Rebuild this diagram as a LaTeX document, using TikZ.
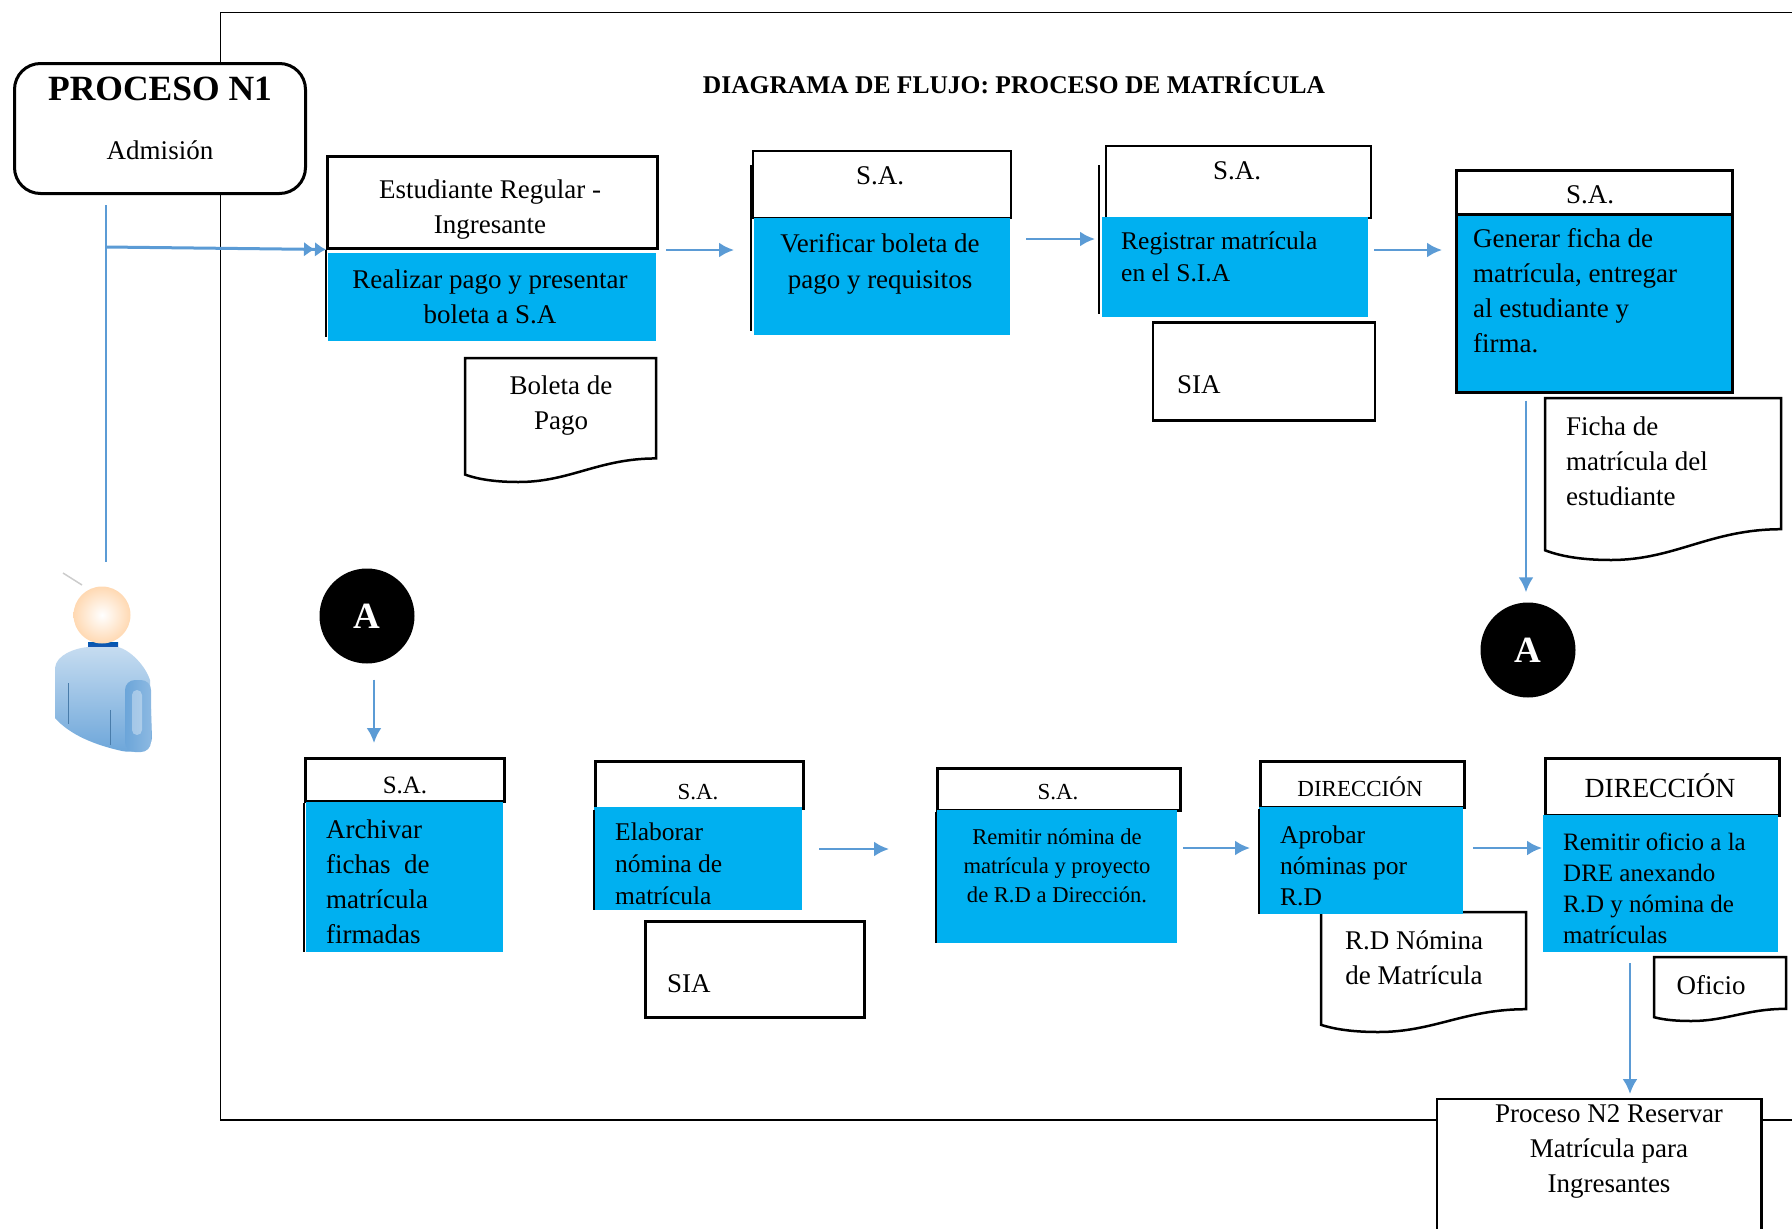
\documentclass[tikz,border=0pt]{standalone}
\usepackage{fontspec}
\setmainfont{Liberation Serif}
\definecolor{celeste}{HTML}{00B0F0}
\definecolor{flecha}{HTML}{5B9BD5}
\usetikzlibrary{arrows.meta, calc, positioning, shapes.geometric}
\tikzset{
	letra/.style 2 args={font=\fontsize{#1}{#2}\selectfont, inner sep=0pt, align=left},
	cab/.style={draw=black, line width=2.5pt, fill=white, anchor=north west, inner sep=0pt},
	cuerpo/.style={fill=celeste, anchor=north west, inner sep=0pt},
	borde/.style={draw=black, line width=2.5pt},
	flujo/.style={draw=flecha, line width=2.5pt, -{Latex[length=15pt,width=15pt]}},
	flujodoble/.style={draw=flecha, line width=3pt, -{Latex[length=11pt,width=15pt]Latex[length=11pt,width=15pt]}},
	base/.style={cylinder, shape border rotate=90, aspect=6.5, draw=black, line width=2.5pt, fill=white, inner sep=0pt},
	conector/.style={circle, fill=black, text=white, minimum size=95pt, inner sep=0pt, font=\fontsize{37}{40}\selectfont\bfseries},
}
% hoja con el borde inferior ondulado
\newcommand{\hoja}[4]{
	\pgfmathsetmacro{\ancho}{#3-#1}
	\pgfmathsetmacro{\alto}{#4-#2}
	\draw[borde, fill=white, shift={(#1,#2)}] (0,0) -- (\ancho,0) -- (\ancho,.81*\alto)
		.. controls (.7*\ancho,.81*\alto) and (.55*\ancho,\alto) .. (.28*\ancho,\alto)
		.. controls (.18*\ancho,\alto) and (.08*\ancho,.985*\alto) .. (0,.94*\alto) -- cycle;
}
\begin{document}
\begin{tikzpicture}[x=1pt,y=-1pt]
	\useasboundingbox (0,0) rectangle (1792,1229);
	
	% marco
	\draw[line width=1.6pt] (1792,12.6) -- (220.6,12.6) -- (220.6,1120) -- (1792,1120);
	
	\node[letra={25.5}{30}, font=\fontsize{25.5}{30}\selectfont\bfseries] (titulo) at (1014,83) {DIAGRAMA DE FLUJO: PROCESO DE MATRÍCULA};
	
	% inicio
	\node[draw=black, line width=3pt, fill=white, rounded corners=26pt, anchor=north west, minimum width=291pt, minimum height=130pt] (proceso) at (13,62) {};
	\node[letra={35.5}{40}, font=\fontsize{35.5}{40}\selectfont\bfseries] (procesotxt) at (160,89) {PROCESO N1};
	\node[letra={27}{32}] (admision) at (160,150) {Admisión};
	
	\coordinate (cruce) at (106,247);
	\coordinate (persona) at (106,562);
	
	% persona
	\draw[gray!40, line width=1.5pt] (63,573) -- (82,585);
	\fill[top color=blue!50!cyan!70!black, bottom color=blue!50!black!70] (88,642) rectangle (118,656);
	\shade[top color=flecha!35!white, bottom color=flecha!90!white]
		(55,668) .. controls (56,655) and (75,648) .. (88,647) -- (118,647)
		.. controls (130,650) and (145,665) .. (150,680) -- (152,738)
		.. controls (152,748) and (135,754) .. (122,751)
		.. controls (95,745) and (70,735) .. (55,718) -- cycle;
	\shade[rounded corners=10pt, left color=flecha!90!white, right color=flecha!70!white] (125,680) rectangle (151,752);
	\fill[white, opacity=.35, rounded corners=5pt] (132,690) rectangle (142,735);
	\draw[flecha!80!black, line width=1pt] (68,683) -- (68,724);
	\draw[flecha!80!black, line width=1pt] (110,710) -- (110,745);
	\shade[inner color=white, outer color=orange!30!white] (102,615) circle (28.5);
	
	% fila superior
	\node[cab, minimum width=330pt, minimum height=92pt] (cab1) at (326,155) {};
	\node[cuerpo, minimum width=328pt, minimum height=88pt] (pago) at (328,253) {};
	\draw[borde, shorten >=4pt] (cab1.south west) -- (cab1.south west |- pago.south);
	\node[letra={27}{35}, align=center] (cab1txt) at (490,210) {Estudiante Regular -\\Ingresante};
	\node[letra={27}{35}, align=center] (pagotxt) at (490,297) {Realizar pago y presentar\\boleta a S.A};
	
	\hoja{465}{358}{656}{482}
	\node[letra={27}{35}, align=center] (boleta) at (561,406) {Boleta de\\Pago};
	
	\node[cab, line width=1.5pt, minimum width=258pt, minimum height=67pt] (cab2) at (752,150) {};
	\node[cuerpo, minimum width=256pt, minimum height=117pt] (verificar) at (754,218) {};
	\draw[borde] (751,165) -- (751,331);
	\node[letra={27}{35}] (cab2txt) at (880,176) {S.A.};
	\node[letra={27}{36}, align=center] (verificartxt) at (880,264) {Verificar boleta de\\pago y requisitos};
	
	\draw[borde, line width=1.5pt] (1099,165) -- (1099,314);
	\node[cab, line width=1.5pt, minimum width=265pt, minimum height=72pt] (cab3) at (1105,145) {};
	\node[cuerpo, minimum width=266pt, minimum height=100pt] (registrar) at (1102,217) {};
	\node[letra={27}{35}] (cab3txt) at (1237,171) {S.A.};
	\node[letra={25.5}{32}, anchor=west] (registrartxt) at (1121,257) {Registrar matrícula\\en el S.I.A};
	
	\node[base, minimum width=222pt, minimum height=98pt] (sia1) at (1264,372) {};
	\node[letra={27}{32}, anchor=west] (sia1txt) at (1177,385) {SIA};
	
	\node[cab, minimum width=276pt, minimum height=44pt] (cab4) at (1455,169) {};
	\node[cuerpo, draw=black, line width=2.5pt, minimum width=276pt, minimum height=178pt] (generar) at (1455,213) {};
	\node[letra={27}{35}] (cab4txt) at (1590,195) {S.A.};
	\node[letra={27}{35}, anchor=west] (generartxt) at (1473,291) {Generar ficha de\\matrícula, entregar\\al estudiante y\\firma.};
	
	\hoja{1545}{398}{1781}{560}
	\node[letra={27}{35}, anchor=west] (ficha) at (1566,461) {Ficha de\\matrícula del\\estudiante};
	
	% conectores
	\node[conector] (a1) at (367,616) {A};
	\node[conector] (a2) at (1528,650) {A};
	
	% fila inferior
	\node[cab, minimum width=199pt, minimum height=43pt] (cab5) at (304,757) {};
	\node[cuerpo, minimum width=197pt, minimum height=150pt] (archivar) at (306,802) {};
	\draw[borde] (cab5.south west) -- (cab5.south west |- archivar.south);
	\node[letra={25}{35}] (cab5txt) at (405,785) {S.A.};
	\node[letra={27}{35}, anchor=west] (archivartxt) at (326,882) {Archivar\\fichas~~de\\matrícula\\firmadas};
	
	\node[cab, minimum width=208pt, minimum height=47pt] (cab6) at (594,760) {};
	\node[cuerpo, minimum width=208pt, minimum height=103pt] (elaborar) at (594,807) {};
	\draw[borde] (cab6.south west) -- (cab6.south west |- elaborar.south);
	\node[letra={23}{35}] (cab6txt) at (698,792) {S.A.};
	\node[letra={25.5}{32}, anchor=west] (elaborartxt) at (615,864) {Elaborar\\nómina de\\matrícula};
	
	\node[base, minimum width=219pt, minimum height=96pt] (sia2) at (755,970) {};
	\node[letra={27}{32}, anchor=west] (sia2txt) at (667,984) {SIA};
	
	\node[cab, minimum width=243pt, minimum height=42pt] (cab7) at (936,767) {};
	\node[cuerpo, minimum width=240pt, minimum height=133pt] (remitir) at (937,810) {};
	\draw[borde] (cab7.south west) -- (cab7.south west |- remitir.south);
	\node[letra={23}{35}] (cab7txt) at (1058,792) {S.A.};
	\node[letra={22.6}{29}, align=center] (remitirtxt) at (1057,866) {Remitir nómina de\\matrícula y proyecto\\de R.D a Dirección.};
	
	\hoja{1321}{912}{1526}{1032}
	\node[letra={27}{35}, align=center] (rd) at (1414,958) {R.D Nómina\\de Matrícula};
	
	\node[cab, minimum width=204pt, minimum height=46pt] (cab8) at (1259,760) {};
	\node[cuerpo, minimum width=204pt, minimum height=107pt] (aprobar) at (1259,807) {};
	\draw[borde] (cab8.south west) -- (cab8.south west |- aprobar.south);
	\node[letra={23}{35}] (cab8txt) at (1360,787) {DIRECCIÓN};
	\node[letra={25.5}{31}, anchor=west] (aprobartxt) at (1280,866) {Aprobar\\nóminas por\\R.D};
	
	\node[cab, minimum width=234pt, minimum height=57pt] (cab9) at (1544,757) {};
	\node[cuerpo, minimum width=235pt, minimum height=137pt] (oficio) at (1543,815) {};
	\node[letra={27.7}{35}] (cab9txt) at (1660,786) {DIRECCIÓN};
	\node[letra={25}{31}, anchor=west] (oficiotxt) at (1563,888) {Remitir oficio a la\\DRE anexando\\R.D y nómina de\\matrículas};
	
	\hoja{1654}{957}{1786}{1021}
	\node[letra={27}{35}] (oficiodoc) at (1711,985) {Oficio};
	
	% proceso siguiente
	\node[fill=white, anchor=north west, minimum width=324pt, minimum height=130pt] (n2) at (1437,1099) {};
	\draw[borde] (n2.south west) -- (n2.north west) -- (n2.north east) -- (n2.south east);
	\node[letra={27}{35}, align=center] (n2txt) at (1609,1151) {Proceso N2 Reservar\\Matrícula para\\Ingresantes};
	
	% flechas
	\draw[draw=flecha, line width=2.5pt, shorten <=10pt] (proceso.south -| cruce) -- (persona);
	\draw[flujodoble] (cruce) -- (cab1.south west);
	\draw[flujo, shorten <=10pt, shorten >=20pt] (pago.east |- 0,250) -- (verificar.west |- 0,250);
	\draw[flujo, shorten <=16pt, shorten >=7pt] (verificar.east |- 0,239) -- (registrar.west |- 0,239);
	\draw[flujo, shorten <=6pt, shorten >=13pt] (registrar.east |- 0,250) -- (generar.west |- 0,250);
	\draw[flujo, shorten <=7pt, shorten >=10pt] (generar.south -| 1526,0) -- (a2.north -| 1526,0);
	\draw[flujo, shorten <=16pt, shorten >=14pt] (a1.south -| 374,0) -- (cab5.north -| 374,0);
	\draw[flujo, shorten <=17pt, shorten >=48pt] (elaborar.east |- 0,849) -- (remitir.west |- 0,849);
	\draw[flujo, shorten <=6pt, shorten >=9pt] (remitir.east |- 0,848) -- (aprobar.west |- 0,848);
	\draw[flujo, shorten <=10pt, shorten >=1pt] (aprobar.east |- 0,848) -- (oficio.west |- 0,848);
	\draw[flujo, shorten <=11pt, shorten >=5pt] (oficio.south -| 1630,0) -- (n2.north -| 1630,0);
	
\end{tikzpicture}
\end{document}
